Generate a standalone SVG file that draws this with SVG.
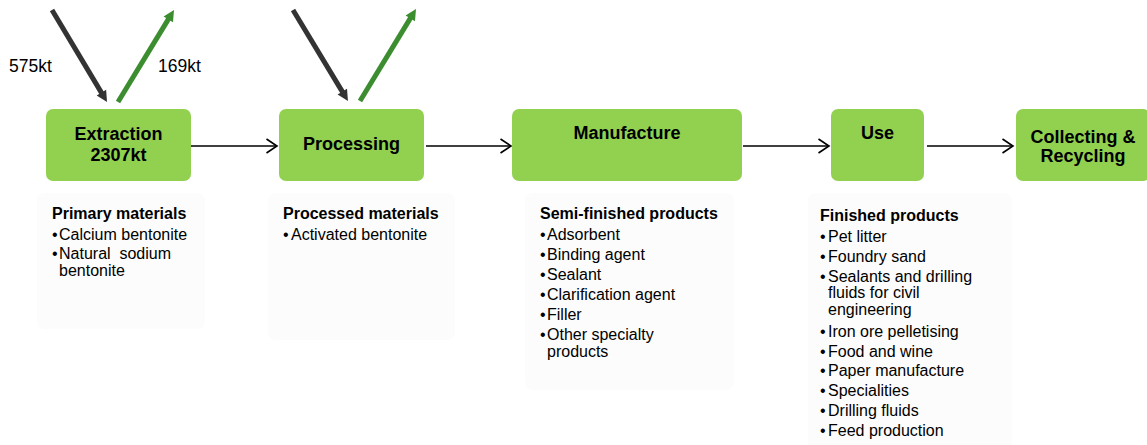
<svg xmlns="http://www.w3.org/2000/svg" width="1147" height="445" viewBox="0 0 1147 445">
<style>
.box{fill:#92D050;}
.panel{fill:#FCFCFC;}
.t{font-family:"Liberation Sans",Arial,sans-serif;font-weight:bold;font-size:18px;fill:#000;text-anchor:middle;}
.lab{font-family:"Liberation Sans",Arial,sans-serif;font-size:17.5px;fill:#000;}
.h{font-family:"Liberation Sans",Arial,sans-serif;font-weight:bold;font-size:16px;fill:#000;}
.b{font-family:"Liberation Sans",Arial,sans-serif;font-size:16px;fill:#000;}
.conn{stroke:#000;stroke-width:1.6;fill:none;marker-end:url(#open);}
.inb{stroke:#333333;stroke-width:5;fill:none;marker-end:url(#headb);}
.outg{stroke:#3C8D2F;stroke-width:5;fill:none;marker-end:url(#headg);}
</style>
<defs>
<marker id="open" markerUnits="userSpaceOnUse" markerWidth="14" markerHeight="16" refX="11" refY="8" orient="auto" overflow="visible">
<path d="M0.5,1 L11,8 L0.5,15" fill="none" stroke="#000" stroke-width="1.6"/>
</marker>
<marker id="headb" markerUnits="userSpaceOnUse" markerWidth="12" markerHeight="12" refX="3.5" refY="5.5" orient="auto" overflow="visible">
<path d="M0,0 L11,5.5 L0,11 z" fill="#333333"/>
</marker>
<marker id="headg" markerUnits="userSpaceOnUse" markerWidth="12" markerHeight="12" refX="3.5" refY="5.5" orient="auto" overflow="visible">
<path d="M0,0 L11,5.5 L0,11 z" fill="#3C8D2F"/>
</marker>
</defs>
<rect width="1147" height="445" fill="#FFFFFF"/>

<g id="panels">
<rect class="panel" x="37" y="193" width="168" height="136" rx="8"/>
<rect class="panel" x="268" y="193" width="187" height="147" rx="8"/>
<rect class="panel" x="525" y="193" width="209" height="197" rx="8"/>
<rect class="panel" x="808" y="193" width="204" height="260" rx="8"/>
</g>

<g id="connectors">
<line class="conn" x1="191" y1="146" x2="277" y2="146"/>
<line class="conn" x1="426" y1="146" x2="511" y2="146"/>
<line class="conn" x1="743" y1="146" x2="829" y2="146"/>
<line class="conn" x1="927" y1="146" x2="1013" y2="146"/>
<line class="inb" x1="52" y1="10" x2="103.2" y2="95.6"/>
<line class="outg" x1="118" y1="102" x2="170.1" y2="16.4"/>
<line class="inb" x1="293" y1="10" x2="344.1" y2="94.6"/>
<line class="outg" x1="360" y1="101" x2="412.1" y2="15.4"/>
</g>

<g id="flow-labels">
<text class="lab" x="9" y="72">575kt</text>
<text class="lab" x="158" y="72">169kt</text>
</g>

<g id="extraction">
<rect class="box" x="46" y="109" width="145" height="72" rx="7"/>
<text class="t" x="118.5" y="140">Extraction</text>
<text class="t" x="118.5" y="161">2307kt</text>
</g>

<g id="processing">
<rect class="box" x="279" y="109" width="145" height="72" rx="7"/>
<text class="t" x="351.5" y="149.5">Processing</text>
</g>

<g id="manufacture">
<rect class="box" x="512" y="109" width="230" height="72" rx="7"/>
<text class="t" x="627" y="138.5">Manufacture</text>
</g>

<g id="use">
<rect class="box" x="831" y="109" width="93" height="72" rx="7"/>
<text class="t" x="877.5" y="138.5">Use</text>
</g>

<g id="collecting">
<rect class="box" x="1016" y="109" width="134" height="72" rx="7"/>
<text class="t" x="1083" y="143">Collecting &amp;</text>
<text class="t" x="1083" y="162">Recycling</text>
</g>

<g id="primary-materials">
<text class="h" x="52" y="219">Primary materials</text>
<text class="b" x="52" y="240">•<tspan x="59">Calcium bentonite</tspan></text>
<text class="b" x="52" y="259">•<tspan x="59">Natural&#160; sodium</tspan></text>
<text class="b" x="59" y="276">bentonite</text>
</g>

<g id="processed-materials">
<text class="h" x="283" y="219">Processed materials</text>
<text class="b" x="283" y="240">•<tspan x="291">Activated bentonite</tspan></text>
</g>

<g id="semi-finished-products">
<text class="h" x="540" y="219">Semi-finished products</text>
<text class="b" x="540" y="240">•<tspan x="547">Adsorbent</tspan></text>
<text class="b" x="540" y="260">•<tspan x="547">Binding agent</tspan></text>
<text class="b" x="540" y="280">•<tspan x="547">Sealant</tspan></text>
<text class="b" x="540" y="300">•<tspan x="547">Clarification agent</tspan></text>
<text class="b" x="540" y="320">•<tspan x="547">Filler</tspan></text>
<text class="b" x="540" y="340">•<tspan x="547">Other specialty</tspan></text>
<text class="b" x="547" y="357">products</text>
</g>

<g id="finished-products">
<text class="h" x="820" y="221">Finished products</text>
<text class="b" x="820" y="242">•<tspan x="828">Pet litter</tspan></text>
<text class="b" x="820" y="262">•<tspan x="828">Foundry sand</tspan></text>
<text class="b" x="820" y="282">•<tspan x="828">Sealants and drilling</tspan></text>
<text class="b" x="828" y="298">fluids for civil</text>
<text class="b" x="828" y="315">engineering</text>
<text class="b" x="820" y="337">•<tspan x="828">Iron ore pelletising</tspan></text>
<text class="b" x="820" y="357">•<tspan x="828">Food and wine</tspan></text>
<text class="b" x="820" y="376">•<tspan x="828">Paper manufacture</tspan></text>
<text class="b" x="820" y="396">•<tspan x="828">Specialities</tspan></text>
<text class="b" x="820" y="416">•<tspan x="828">Drilling fluids</tspan></text>
<text class="b" x="820" y="436">•<tspan x="828">Feed production</tspan></text>
</g>
</svg>
